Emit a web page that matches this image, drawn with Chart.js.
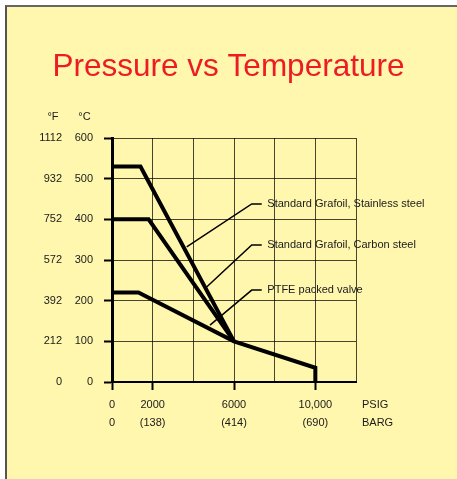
<!DOCTYPE html>
<html><head><meta charset="utf-8">
<script src="https://cdn.jsdelivr.net/npm/chart.js@4/dist/chart.umd.min.js"></script>
<style>
html,body{margin:0;padding:0;background:#fff;width:457px;height:479px;overflow:hidden;}
#frame{position:absolute;left:5px;top:5px;width:452px;height:474px;box-sizing:border-box;border-left:2px solid #555;border-top:2px solid #666;background:#FFF7AE;}
#c{position:absolute;left:0;top:0;}
</style></head><body>
<div id="frame"></div>
<canvas id="c" width="457" height="479"></canvas>
<script>
// ---- axis tick labels ----
const tempC = [0, 100, 200, 300, 400, 500, 600];
const tempF = ['0', '212', '392', '572', '752', '932', '1112'];
const pressurePsig = [0, 2000, 6000, 10000];
const psigLabels = ['0', '2000', '6000', '10,000'];
const bargLabels = ['0', '(138)', '(414)', '(690)'];

// ---- series (pressure psig, temperature °C) ----
const stainlessPsig = [0, 1400, 6000];
const stainlessTemp = [530, 530, 100];
const carbonPsig = [0, 1800, 6000];
const carbonTemp = [400, 400, 100];
const ptfePsig = [0, 1300, 6000, 10000, 10000];
const ptfeTemp = [220, 220, 100, 35, 0];

// ---- callouts ----
const calloutNames = ['Standard Grafoil, Stainless steel', 'Standard Grafoil, Carbon steel', 'PTFE packed valve'];
const calloutTipPsig = [3674, 4575, 4820];
const calloutTipTemp = [332, 230, 140];
const calloutElbowPsig = [6872, 6872, 6872];
const calloutEndPsig = [7364, 7364, 7364];
const calloutRowTemp = [438, 337, 226];
const calloutTextPsig = 7640;

const FONT = '"Liberation Sans", Arial, sans-serif';
const TEXT = '#1a1a1a';
const GRID = 'rgba(0,0,0,0.72)';

function pts(xs, ys) { return xs.map((v, i) => ({x: v, y: ys[i]})); }

const datasets = [
  {data: pts(stainlessPsig, stainlessTemp), borderWidth: 4},
  {data: pts(carbonPsig, carbonTemp), borderWidth: 4},
  {data: pts(ptfePsig, ptfeTemp), borderWidth: 4}
];
calloutNames.forEach((n, i) => {
  datasets.push({
    data: pts([calloutTipPsig[i], calloutElbowPsig[i], calloutEndPsig[i]],
              [calloutTipTemp[i], calloutRowTemp[i], calloutRowTemp[i]]),
    borderWidth: 1.5
  });
});
datasets.forEach(d => {
  d.showLine = true; d.pointRadius = 0; d.borderColor = '#000';
  d.backgroundColor = '#000'; d.tension = 0; d.fill = false;
  d.borderJoinStyle = 'miter'; d.clip = false;
});

const textPlugin = {
  id: 'texts',
  afterDraw(chart) {
    const {ctx, chartArea, scales: {x, y}} = chart;
    ctx.save();
    ctx.font = '11px ' + FONT;
    ctx.fillStyle = TEXT;
    ctx.textBaseline = 'middle';
    ctx.textAlign = 'left';
    calloutNames.forEach((t, i) => ctx.fillText(t, x.getPixelForValue(calloutTextPsig), y.getPixelForValue(calloutRowTemp[i])));
    ctx.fillText('PSIG', chartArea.right + 6, chartArea.bottom + 23);
    ctx.fillText('BARG', chartArea.right + 6, chartArea.bottom + 41);
    ctx.textAlign = 'right';
    ctx.fillText('°F', chartArea.left - 53.5, chartArea.top - 21.5);
    ctx.fillText('°C', chartArea.left - 21.3, chartArea.top - 21.5);
    ctx.restore();
  }
};

new Chart(document.getElementById('c'), {
  type: 'scatter',
  data: {datasets},
  options: {
    responsive: false,
    animation: false,
    devicePixelRatio: 1,
    layout: {padding: 0},
    plugins: {
      legend: {display: false},
      tooltip: {enabled: false},
      title: {
        display: true,
        text: 'Pressure vs Temperature',
        color: '#ED1C24',
        font: {family: FONT, size: 31.5, weight: 'normal', lineHeight: 1.2},
        padding: {top: 48.3, bottom: 51.9}
      }
    },
    scales: {
      x: {
        type: 'linear', position: 'bottom', min: 0, max: 12000,
        ticks: {
          stepSize: 2000, autoSkip: false, maxRotation: 0, padding: 6, color: TEXT,
          font: {family: FONT, size: 11, lineHeight: 18 / 11},
          callback: (v) => { const i = pressurePsig.indexOf(v); return i < 0 ? '' : [psigLabels[i], bargLabels[i]]; }
        },
        grid: {
          color: GRID, lineWidth: 1, drawTicks: true, tickLength: 8, tickWidth: 2,
          tickColor: (c) => (c.tick && pressurePsig.includes(c.tick.value)) ? '#000' : 'rgba(0,0,0,0)'
        },
        border: {display: true, color: '#000', width: 2},
        afterFit(s) { s.height = 97; }
      },
      y: {
        type: 'linear', position: 'left', weight: 0, min: 0, max: 600,
        ticks: {stepSize: 100, padding: 11, color: TEXT, font: {family: FONT, size: 11}},
        grid: {color: GRID, lineWidth: 1, drawTicks: true, tickLength: 8, tickWidth: 2, tickColor: '#000'},
        border: {display: true, color: '#000', width: 3},
        afterFit(s) { s.width = 50; }
      },
      yF: {
        type: 'linear', position: 'left', weight: 1, min: 0, max: 600,
        ticks: {
          stepSize: 100, padding: 0, color: TEXT, font: {family: FONT, size: 11},
          callback: (v) => { const i = tempC.indexOf(v); return i < 0 ? '' : tempF[i]; }
        },
        grid: {display: false, drawTicks: false},
        border: {display: false},
        afterFit(s) { s.width = 62; }
      },
      yR: {
        type: 'linear', position: 'right', min: 0, max: 1,
        ticks: {display: false},
        grid: {display: false, drawTicks: false},
        border: {display: false},
        afterFit(s) { s.width = 101; }
      }
    }
  },
  plugins: [textPlugin]
});
</script>
</body></html>
